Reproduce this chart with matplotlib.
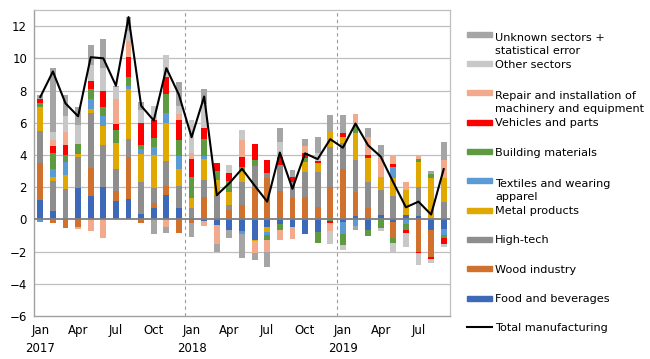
import numpy as np
import matplotlib
matplotlib.use("Agg")
import matplotlib.pyplot as plt
from matplotlib.patches import Rectangle
from matplotlib.lines import Line2D

plt.rcParams['font.family'] = 'DejaVu Sans'

# Monthly data, Jan 2017 - Sep 2019
months = ["Jan\n2017", "", "", "Apr", "", "", "Jul", "", "", "Oct", "", "",
          "Jan\n2018", "", "", "Apr", "", "", "Jul", "", "", "Oct", "", "",
          "Jan\n2019", "", "", "Apr", "", "", "Jul", "", ""]

food = [1.2, 0.5, 0, 1.94, 1.46, 1.98, 1.11, 1.25, 0.34, 0.7, 1.52, 0.7,
        0, -0.12, -0.34, -0.65, -0.7, -1.27, -0.45, -0.3, -0.45, -0.9, -0.8, 0,
        -0.15, 0.22, -0.65, 0.28, -0.14, 0.28, 0.22, -0.65, -0.61]
wood = [2.3, -0.25, -0.55, -0.45, 1.76, 0, 0.68, 2.65, -0.2, 0.3, 0.56, -0.85,
        -0.24, 1.38, 0, 0.59, 0.87, 1.94, 2.56, 1.75, 1.32, 1.38, 0.75, 2.0,
        3.1, 1.51, 0.7, 0, -1.03, 0, -2.0, -1.7, 0]
hightech = [2.0, 1.9, 1.87, 1.96, 3.41, 2.65, 1.33, 1.08, 2.01, 0.94, 1.55, 1.35,
            0.7, 1.07, 1.52, 0.31, 1.43, 1.36, 0.31, 1.65, 1.03, 1.59, 2.22, 2.5,
            1.63, 1.97, 1.65, 1.55, 1.42, 0, 1.82, 0, 1.1]
metal = [1.5, 0.25, 0.87, 0.15, 0.21, 1.18, 1.61, 3.11, 1.72, 2.06, 2.38, 1.1,
         0.62, 1.29, 0.93, 0.83, 0.7, -0.1, -0.31, 0, 0, 0.62, 0.52, 0.9,
         0.37, 1.69, 1.48, 0.8, 1.14, 1.55, 1.55, 2.56, 1.46]
textiles = [-0.15, 0.5, 0.85, 0, 0.63, 0.58, 0, 0.2, 0.29, 0.52, 0.59, 0.8,
            0, 0.2, 0, 0, -0.2, 0, -0.2, 0, 0, 0, 0, 0,
            -0.75, -0.4, 0, 0, 0.68, -0.3, 0, 0, -0.35]
building = [0.25, 0.95, 0.4, 0.6, 0.62, 0.58, 0.79, 0.54, 0.27, 0.52, 1.2, 1.0,
            1.28, 1.04, 0.58, 0.68, 0.28, 0.4, -0.31, -0.36, 0, 0.21, -0.64, -0.1,
            -0.7, 0.4, -0.37, -0.55, -0.27, -0.35, 0.14, 0.27, -0.21]
vehicles = [0.2, 0.45, 0.63, 0, 0.52, 1.03, 0.41, 1.24, 1.38, 1.1, 1.03, 1.2,
            1.14, 0.68, 0.46, 0.5, 0.62, 0.95, 0.83, 0.5, 0.27, 0.31, 0.16, -0.15,
            0.25, 0, 0.17, 0, 0.2, -0.17, -0.1, -0.1, -0.35]
repair = [0, 0.35, 0.82, -0.12, -0.7, -1.17, 1.54, 0.98, 0, 0, -0.45, 0.4,
          0.36, -0.3, -1.2, 0, 1.04, -0.7, -0.73, -0.6, -0.78, 0.46, 0, -0.5,
          0, 0.76, 1.14, 1.27, 0.5, 0.52, 0.21, 0, 1.14]
other = [0, 0.5, 0.98, 1.2, 1.0, 1.39, 0.74, 0.62, 0.75, 0.91, 1.39, 0.5,
         2.1, 1.5, 0, 0.48, 0.58, 0, 0, 0.9, 0, 0, 0.5, -0.75,
         -0.3, 0, 0, -0.2, -0.56, -0.87, -0.73, -0.27, -0.17]
unknown = [0.3, 4.0, 1.3, 1.1, 1.2, 1.8, 0.08, 0.89, 0.5, -0.9, -0.41, 1.51,
           -0.86, 0.93, -0.5, -0.52, -1.5, -0.45, -0.93, 0.86, 0.45, 0.41, 0.95, 1.09,
           1.14, -0.25, 0.52, 0.73, 0, 0, 0, 0.2, 1.13]
total = [7.6, 9.18, 7.2, 6.4, 10.07, 10.0, 8.3, 12.56, 7.05, 6.14, 9.39, 7.73,
         5.1, 7.63, 1.5, 2.25, 3.14, 2.1, 1.1, 4.15, 1.9, 4.1, 3.74, 4.98,
         4.45, 5.95, 4.6, 3.9, 2.3, 0.75, 1.1, 0.3, 3.12]

# stacking order bottom -> top
series = [
    ("Food and beverages", food, "#3E68B8"),
    ("Wood industry", wood, "#D0712E"),
    ("High-tech", hightech, "#8E8E8E"),
    ("Metal products", metal, "#E0A800"),
    ("Textiles and wearing\napparel", textiles, "#5B9BD5"),
    ("Building materials", building, "#5E9A3F"),
    ("Vehicles and parts", vehicles, "#FF0000"),
    ("Repair and installation of\nmachinery and equipment", repair, "#F2A98C"),
    ("Other sectors", other, "#C8C8C8"),
    ("Unknown sectors +\nstatistical error", unknown, "#A5A5A5"),
]

W, H = 650, 359
fig = plt.figure(figsize=(6.5, 3.59), dpi=100)
ax = fig.add_axes([34 / W, 1 - 316 / H, (450 - 34) / W, (316 - 10) / H])

x = np.arange(len(total))
pos_bottom = np.zeros(len(x))
neg_bottom = np.zeros(len(x))
for name, vals, col in series:
    v = np.array(vals, dtype=float)
    p = np.where(v > 0, v, 0)
    n = np.where(v < 0, v, 0)
    ax.bar(x, p, 0.46, bottom=pos_bottom, color=col, zorder=3)
    ax.bar(x, n, 0.46, bottom=neg_bottom, color=col, zorder=3)
    pos_bottom += p
    neg_bottom += n

ax.plot(x, total, color="black", lw=1.5, zorder=5)

ax.set_xlim(-0.5, len(x) - 0.5)
ax.set_ylim(-6, 13)
ax.set_yticks(np.arange(-6, 13, 2))
for yv in np.arange(-4, 13, 2):
    if yv != 0:
        ax.axhline(yv, color="#BFBFBF", lw=0.9, zorder=1)
ax.axhline(0, color="#7F7F7F", lw=1.3, zorder=4)
for xv in [11.5, 23.5]:
    ax.axvline(xv, color="#9A9A9A", lw=0.8, ls=(0, (3, 3)), zorder=2)

ax.set_xticks(x)
ax.set_xticklabels(months, fontsize=8.5, linespacing=1.45)
ax.tick_params(axis="x", length=0, pad=6)
ax.tick_params(axis="y", length=0, labelsize=8.5, pad=5)
for s in ["top", "right"]:
    ax.spines[s].set_color("#BFBFBF")
    ax.spines[s].set_linewidth(0.9)
for s in ["left", "bottom"]:
    ax.spines[s].set_color("#A0A0A0")
    ax.spines[s].set_linewidth(1.0)

# legend drawn on the right, top to bottom
legend_items = list(reversed(series))
y0, dy, line_h = 34.3, 29.3, 15.6
for k, (name, vals, col) in enumerate(legend_items):
    yc = y0 + k * dy
    fig.patches.append(Rectangle((467 / W, 1 - (yc + 2.5) / H), 25 / W, 5 / H,
                                 transform=fig.transFigure, color=col))
    # baseline of a multi-line text sits on its last line
    n_extra = name.count("\n")
    fig.text(495 / W, 1 - (yc + 4.0 + n_extra * line_h) / H, name, fontsize=8.1,
             va="baseline", ha="left", linespacing=1.4)
yc = y0 + len(legend_items) * dy
fig.lines.append(Line2D([467 / W, 492 / W], [1 - yc / H, 1 - yc / H],
                        transform=fig.transFigure, color="black", lw=1.5))
fig.text(495 / W, 1 - (yc + 4.0) / H, "Total manufacturing", fontsize=8.1,
         va="baseline", ha="left")

fig.savefig("out.png", dpi=100)
